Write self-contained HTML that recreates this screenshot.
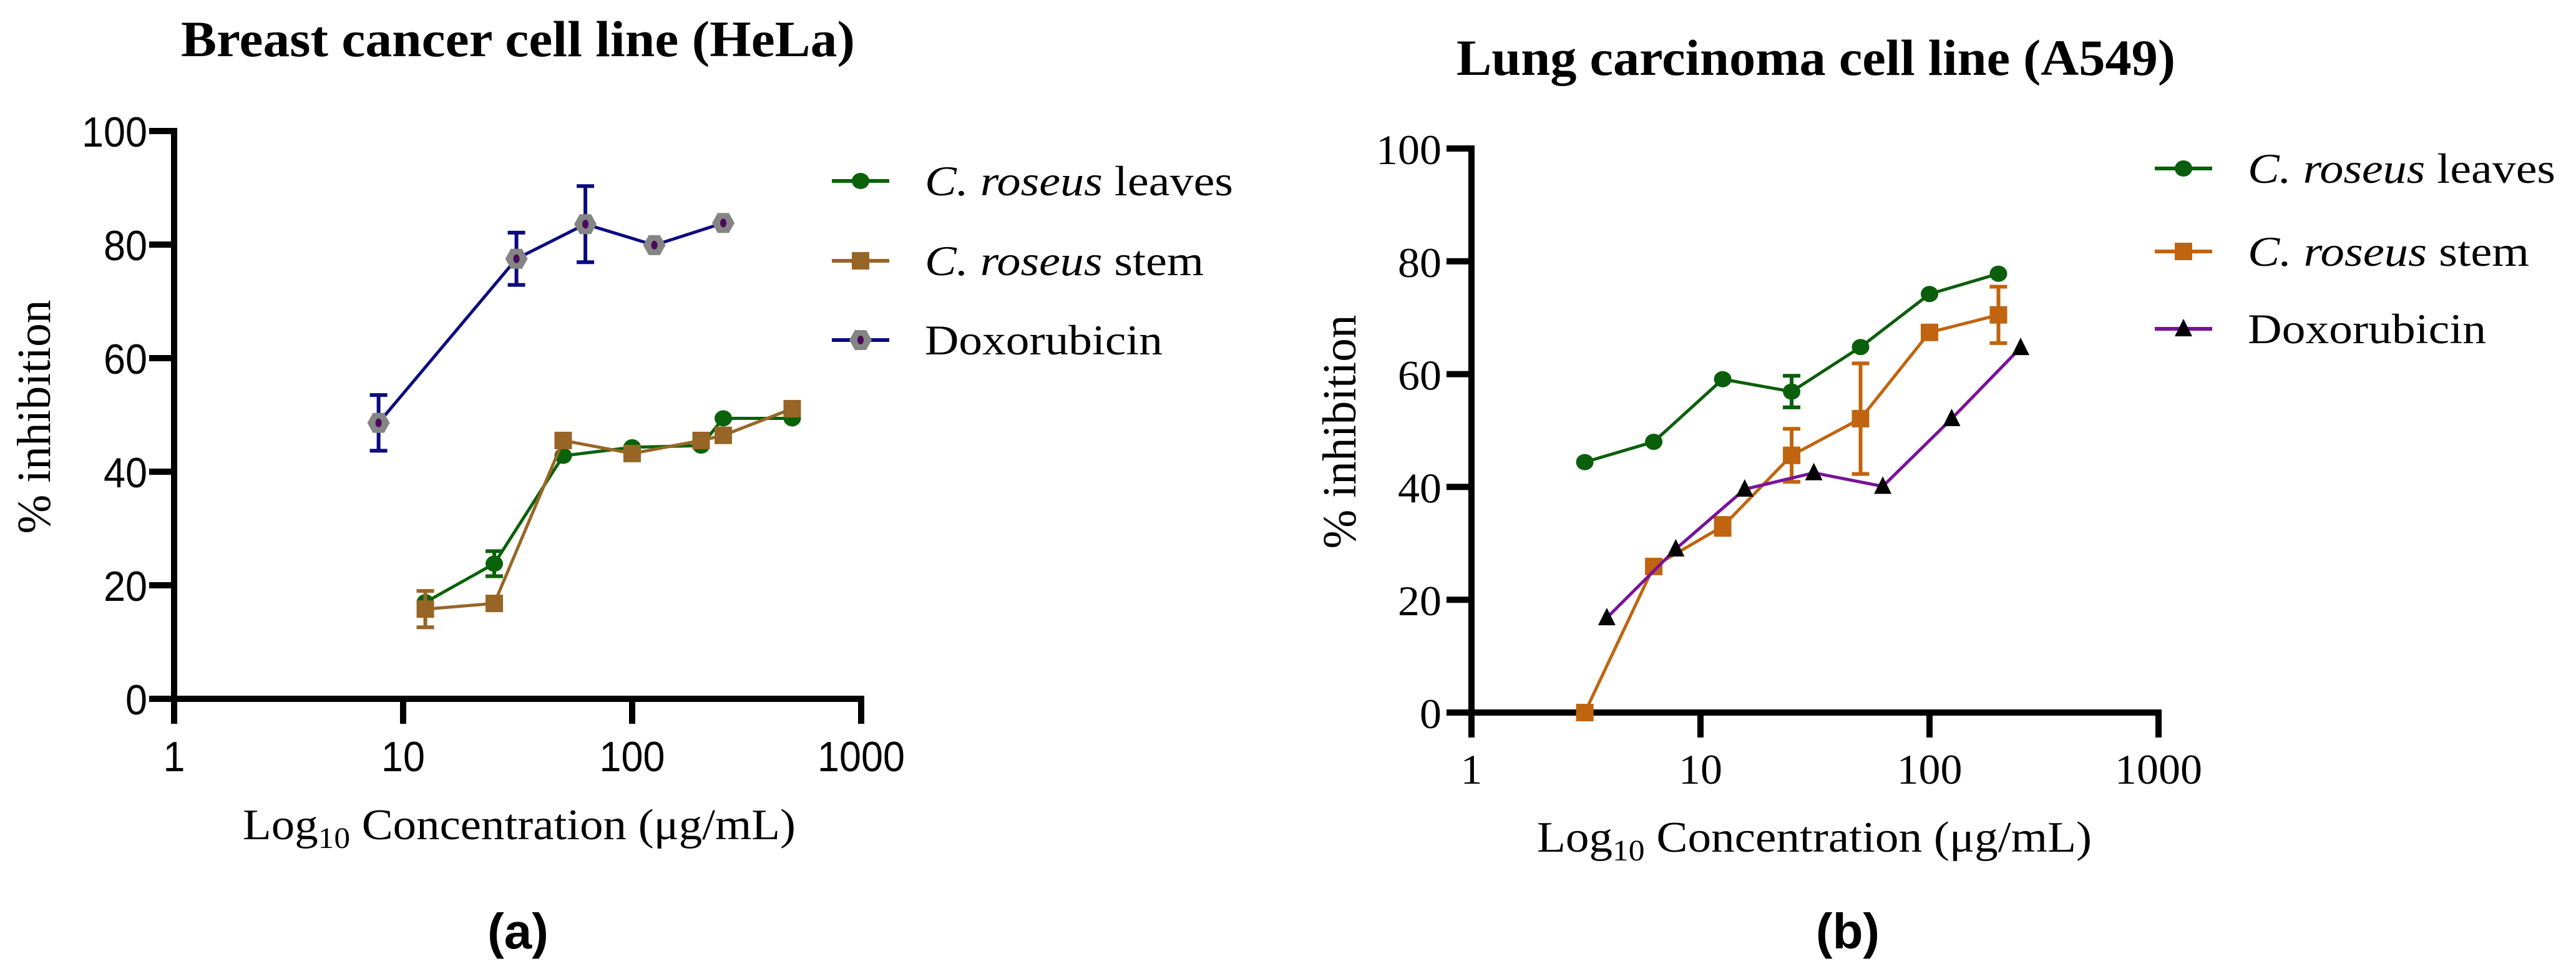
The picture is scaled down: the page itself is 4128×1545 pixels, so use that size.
<!DOCTYPE html>
<html><head><meta charset="utf-8">
<style>html,body{margin:0;padding:0;background:#fff}svg{display:block}</style>
</head><body>
<svg id="fig" xmlns="http://www.w3.org/2000/svg" width="4128" height="1545" viewBox="0 0 4128 1545">
<rect width="4128" height="1545" fill="#fff"/>
<g id="pa">
<text x="290" y="90" textLength="1080" lengthAdjust="spacingAndGlyphs" font-family="Liberation Serif, serif" font-weight="bold" font-size="82">Breast cancer cell line (HeLa)</text>
<text transform="translate(80,668) rotate(-90)" text-anchor="middle" textLength="375" lengthAdjust="spacingAndGlyphs" font-family="Liberation Serif, serif" font-size="76">% inhibition</text>
<text x="389" y="1345" textLength="886" lengthAdjust="spacingAndGlyphs" font-family="Liberation Serif, serif" font-size="70">Log<tspan font-size="48" dy="14">10</tspan><tspan dy="-14"> Concentration (μg/mL)</tspan></text>
<text x="830" y="1520" text-anchor="middle" font-family="Liberation Sans, sans-serif" font-weight="bold" font-size="80">(a)</text>
</g>
<g id="pb">
<text x="2334" y="120" textLength="1152" lengthAdjust="spacingAndGlyphs" font-family="Liberation Serif, serif" font-weight="bold" font-size="82">Lung carcinoma cell line (A549)</text>
<text transform="translate(2172,692) rotate(-90)" text-anchor="middle" textLength="375" lengthAdjust="spacingAndGlyphs" font-family="Liberation Serif, serif" font-size="76">% inhibition</text>
<text x="2463" y="1365" textLength="889" lengthAdjust="spacingAndGlyphs" font-family="Liberation Serif, serif" font-size="70">Log<tspan font-size="48" dy="14">10</tspan><tspan dy="-14"> Concentration (μg/mL)</tspan></text>
<text x="2961" y="1520" text-anchor="middle" font-family="Liberation Sans, sans-serif" font-weight="bold" font-size="80">(b)</text>
</g>
</svg>
<script>
// Panel A data
const aLeavesX = [12.5, 25, 50, 100, 200, 250, 500];
const aLeavesY = [17, 23.8, 42.8, 44.3, 44.6, 49.4, 49.4];
const aLeavesErr = [0, 2.2, 0, 0, 0, 0, 0];
const aStemX = [12.5, 25, 50, 100, 200, 250, 500];
const aStemY = [15.8, 16.8, 45.5, 43.2, 45.5, 46.4, 51.1];
const aStemErr = [3.2, 0, 0, 0, 0, 0, 0];
const aDoxX = [7.8125, 31.25, 62.5, 125, 250];
const aDoxY = [48.6, 77.5, 83.6, 79.9, 83.8];
const aDoxErr = [4.9, 4.6, 6.7, 0, 0];
// Panel B data
const bLeavesX = [3.125, 6.25, 12.5, 25, 50, 100, 200];
const bLeavesY = [44.4, 48.0, 59.1, 56.9, 64.8, 74.2, 77.8];
const bLeavesErr = [0, 0, 0, 2.8, 0, 0, 0];
const bStemX = [3.125, 6.25, 12.5, 25, 50, 100, 200];
const bStemY = [0, 25.9, 33.0, 45.6, 52.1, 67.4, 70.5];
const bStemErr = [0, 0, 1.5, 4.7, 9.8, 0, 5];
const bDoxX = [3.9, 7.8, 15.6, 31.25, 62.5, 125, 250];
const bDoxY = [16.8, 29.0, 39.6, 42.5, 40.1, 52.1, 64.7];
const bDoxErr = [0, 0, 0, 0, 0, 0, 0];
const yTicks = [0, 20, 40, 60, 80, 100];
const xTicks = [1, 10, 100, 1000];
const xTickLabels = ["1", "10", "100", "1000"];
const legendNames = ["C. roseus leaves", "C. roseus stem", "Doxorubicin"];

const NS = "http://www.w3.org/2000/svg";
const svg = document.getElementById('fig');
function mk(parent, tag, attrs) {
  const e = document.createElementNS(NS, tag);
  for (const k in attrs) e.setAttribute(k, attrs[k]);
  parent.appendChild(e);
  return e;
}
function marker(g, shape, cx, cy, color) {
  let m;
  if (shape === 'circle') {
    m = mk(g, 'ellipse', {cx: cx, cy: cy, rx: 14, ry: 13, fill: color});
  } else if (shape === 'square') {
    m = mk(g, 'rect', {x: cx - 14, y: cy - 14, width: 28, height: 28, fill: color});
  } else if (shape === 'hex') {
    const r = 18, h = 16;
    m = mk(g, 'polygon', {points: `${cx-r},${cy} ${cx-r/2},${cy-h} ${cx+r/2},${cy-h} ${cx+r},${cy} ${cx+r/2},${cy+h} ${cx-r/2},${cy+h}`, fill: '#858585'});
    const d = mk(g, 'ellipse', {cx: cx, cy: cy, rx: 5, ry: 7, fill: '#4b0a5a'});
    
    
  } else {
    m = mk(g, 'polygon', {points: `${cx},${cy-16} ${cx+14},${cy+12} ${cx-14},${cy+12}`, fill: '#000'});
  }
  
  
}
function panel(p) {
  const g = document.getElementById(p.id);
  const X = v => p.x0 + Math.log10(v) * p.dec;
  const Y = v => p.yb - v * (p.yb - p.yt) / 100;
  const ax = mk(g, 'g', {});
  
  
  const xa = mk(ax, 'line', {x1: p.x0 - 40, y1: p.yb, x2: X(1000) + 5, y2: p.yb, stroke: '#000', 'stroke-width': 10});
  
  
  const ya = mk(ax, 'line', {x1: p.x0, y1: p.yt - 5, x2: p.x0, y2: p.yb + 40, stroke: '#000', 'stroke-width': 10});
  
  
  yTicks.forEach(t => {
    const l = mk(ax, 'line', {x1: p.x0 - 40, y1: Y(t), x2: p.x0, y2: Y(t), stroke: '#000', 'stroke-width': 10});
    
    
    const s = String(t);
    const tx = mk(ax, 'text', {x: p.ylabX, y: Y(t) + 25, 'text-anchor': 'end', 'font-family': p.tickFont, 'font-size': 68, textLength: s.length * 35, lengthAdjust: 'spacingAndGlyphs'});
    tx.textContent = s;
    
    
  });
  xTicks.forEach((t, i) => {
    const l = mk(ax, 'line', {x1: X(t), y1: p.yb, x2: X(t), y2: p.yb + 40, stroke: '#000', 'stroke-width': 10});
    
    
    const s = xTickLabels[i];
    const tx = mk(ax, 'text', {x: X(t), y: p.xlabY, 'text-anchor': 'middle', 'font-family': p.tickFont, 'font-size': 68, textLength: s.length * 35, lengthAdjust: 'spacingAndGlyphs'});
    tx.textContent = s;
    
    
  });
  p.series.forEach((s, si) => {
    const sg = mk(g, 'g', {});
    
    
    const pts = s.x.map((v, i) => X(v) + ',' + Y(s.y[i])).join(' ');
    const pl = mk(sg, 'polyline', {points: pts, fill: 'none', stroke: s.line, 'stroke-width': 5});
    
    
    s.x.forEach((v, i) => {
      const e = s.err[i];
      if (e > 0) {
        const cx = X(v), y1 = Y(s.y[i] + e), y2 = Y(s.y[i] - e);
        const eb = mk(sg, 'path', {d: `M${cx},${y1}V${y2}M${cx-14},${y1}H${cx+14}M${cx-14},${y2}H${cx+14}`, stroke: s.line, 'stroke-width': 6, fill: 'none'});
        
        
      }
    });
    s.x.forEach((v, i) => marker(sg, s.shape, X(v), Y(s.y[i]), s.color));
    const lg = mk(g, 'g', {});
    
    
    const ly = p.legY[si];
    const ll = mk(lg, 'line', {x1: p.legX, y1: ly, x2: p.legX + 92, y2: ly, stroke: s.line, 'stroke-width': 6});
    
    
    marker(lg, s.shape, p.legX + 46, ly, s.color);
    const lt = mk(lg, 'text', {x: p.legTX, y: ly + 23, 'font-family': 'Liberation Serif, serif', 'font-size': 68, textLength: p.legW[si], lengthAdjust: 'spacingAndGlyphs'});
    
    
    const name = legendNames[si];
    if (name.startsWith('C. roseus')) {
      const it = mk(lt, 'tspan', {'font-style': 'italic'});
      it.textContent = 'C. roseus';
      const rest = mk(lt, 'tspan', {});
      rest.textContent = name.slice(9);
    } else lt.textContent = name;
  });
}
panel({id: 'pa', x0: 279, dec: 367, yt: 210, yb: 1120, ylabX: 236, xlabY: 1236, tickFont: 'Liberation Sans, sans-serif',
  legX: 1333, legTX: 1482, legY: [290, 418, 545], legW: [494, 447, 381],
  series: [
    {key: 'leaves', x: aLeavesX, y: aLeavesY, err: aLeavesErr, line: '#0a620a', color: '#0a620a', shape: 'circle'},
    {key: 'stem', x: aStemX, y: aStemY, err: aStemErr, line: '#976626', color: '#976626', shape: 'square'},
    {key: 'doxorubicin', x: aDoxX, y: aDoxY, err: aDoxErr, line: '#0c0a80', color: '#858585', shape: 'hex'}
  ]});
panel({id: 'pb', x0: 2358, dec: 367, yt: 238, yb: 1142, ylabX: 2310, xlabY: 1256, tickFont: 'Liberation Serif, serif',
  legX: 3453, legTX: 3602, legY: [270, 403, 527], legW: [493, 451, 382],
  series: [
    {key: 'leaves', x: bLeavesX, y: bLeavesY, err: bLeavesErr, line: '#0b5e0b', color: '#0b5e0b', shape: 'circle'},
    {key: 'stem', x: bStemX, y: bStemY, err: bStemErr, line: '#c0640f', color: '#c0640f', shape: 'square'},
    {key: 'doxorubicin', x: bDoxX, y: bDoxY, err: bDoxErr, line: '#7a119a', color: '#000', shape: 'tri'}
  ]});
</script>
</body></html>
